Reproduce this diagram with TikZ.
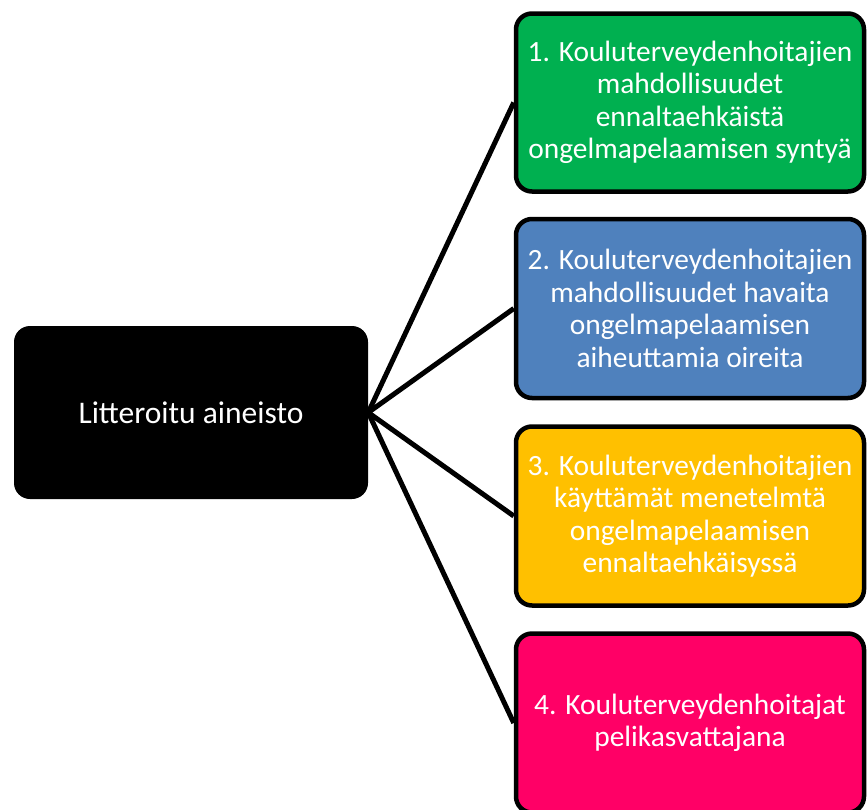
\documentclass[tikz,border=0pt]{standalone}
\usepackage{fontspec}
\setmainfont{Carlito}
\definecolor{cgreen}{HTML}{00B050}
\definecolor{cblue}{HTML}{4F81BD}
\definecolor{cyellow}{HTML}{FFC000}
\definecolor{cpink}{HTML}{FF0066}
\tikzset{
  catbox/.style={draw=black, line width=4.5pt, rounded corners=16pt, text=white, align=center,
    minimum width=348pt, inner sep=0pt, font=\fontsize{29.4}{32.5}\selectfont},
  srcbox/.style={fill=black, rounded corners=16pt, text=white, align=center,
    minimum width=354pt, minimum height=173pt, inner sep=0pt, font=\fontsize{31.5}{36}\selectfont},
  link/.style={line width=5pt, black}
}
\begin{document}
\begin{tikzpicture}[x=1pt,y=-1pt]
\useasboundingbox (0,0) rectangle (867,809);
\node[srcbox] (src) at (191,412.5) {Litteroitu aineisto};
\node[catbox, fill=cgreen, minimum height=178pt] (c1) at (690,102.5)
  {1. Kouluterveydenhoitajien\\mahdollisuudet\\ennaltaehkäistä\\ongelmapelaamisen syntyä};
\node[catbox, fill=cblue, minimum height=179pt] (c2) at (690,308.5)
  {2. Kouluterveydenhoitajien\\mahdollisuudet havaita\\ongelmapelaamisen\\aiheuttamia oireita};
\node[catbox, fill=cyellow, minimum height=179pt] (c3) at (690,516)
  {3. Kouluterveydenhoitajien\\käyttämät menetelmtä\\ongelmapelaamisen\\ennaltaehkäisyssä};
\node[catbox, fill=cpink, minimum height=179pt] (c4) at (690,723)
  {4. Kouluterveydenhoitajat\\pelikasvattajana};
\foreach \c in {c1,c2,c3,c4} \draw[link] (src.east) -- (\c.west);
\end{tikzpicture}
\end{document}
